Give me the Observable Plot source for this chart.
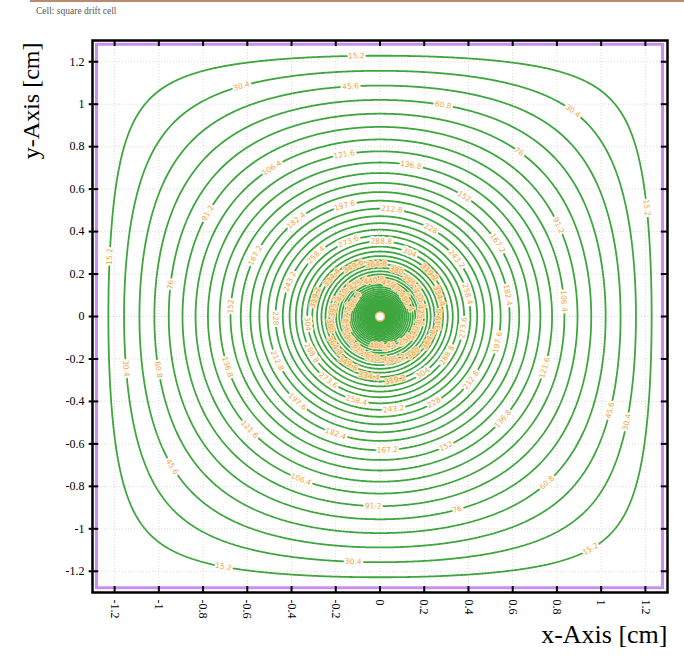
<!DOCTYPE html>
<html><head><meta charset="utf-8">
<script src="https://cdn.jsdelivr.net/npm/d3@7"></script>
<script src="https://cdn.jsdelivr.net/npm/@observablehq/plot@0.6"></script>
<style>
body{margin:0;background:#fff;}
#wrap{position:relative;width:684px;height:656px;overflow:hidden;background:#fff;}
#topline{position:absolute;left:30px;top:0;width:654px;height:2px;background:#b98a6c;}
#title{position:absolute;left:36px;top:6px;font:9.5px "Liberation Serif",serif;color:#555;}
#chart{position:absolute;left:0;top:0;}
</style></head><body>
<div id="wrap"><div id="chart"></div><div id="topline"></div><div id="title"></div></div>
<script>
// ---- data ----
const titleText = ["Cell: square drift cell"];
const xTicks = [-1.2, -1, -0.8, -0.6, -0.4, -0.2, 0, 0.2, 0.4, 0.6, 0.8, 1, 1.2];
const yTicks = [-1.2, -1, -0.8, -0.6, -0.4, -0.2, 0, 0.2, 0.4, 0.6, 0.8, 1, 1.2];
const axisRange = [-1.3, 1.3];
const cellHalfWidth = [1.3];      // square cell wall (cm)
const wire = [{x: 0, y: 0, radius: 0.001, potential: 1520}];
const levels = [15.2, 30.4, 45.6, 60.8, 76, 91.2, 106.4, 121.6, 136.8, 152,
  167.2, 182.4, 197.6, 212.8, 228, 243.2, 258.4, 273.6, 288.8, 304,
  319.2, 334.4, 349.6, 364.8, 380, 395.2, 410.4, 425.6, 440.8, 456,
  471.2, 486.4, 501.6, 516.8, 532, 547.2, 562.4, 577.6, 592.8, 608,
  623.2, 638.4, 653.6, 668.8, 684, 699.2, 714.4, 729.6, 744.8, 760,
  775.2, 790.4, 805.6, 820.8, 836, 851.2, 866.4, 881.6, 896.8, 912];
const labelledLevels = 32;

document.getElementById("title").textContent = titleText[0];

// ---- potential of a wire centred in a grounded square cell ----
const Lh = cellHalfWidth[0];
function gfun(x, y) {
  const c = Math.cos(Math.PI * x / (2 * Lh));
  const q = Math.exp(-Math.PI * Math.abs(y) / (2 * Lh));
  let s = 0.25 * Math.log((1 + 2 * q * c + q * q) / Math.max(1e-300, 1 - 2 * q * c + q * q));
  for (let n = 1; n <= 11; n += 2) {
    const k = n * Math.PI / (2 * Lh);
    const E2 = Math.exp(-2 * k * Lh);
    s -= Math.cos(k * x) * 2 * E2 * Math.cosh(k * y) / (1 + E2) / n;
  }
  return s;
}
const g0 = gfun(wire[0].radius, 0);
const V = (x, y) => Math.min(3000, wire[0].potential * gfun(x - wire[0].x, y - wire[0].y) / g0);

// ---- layout ----
const W = 684, H = 656, mT = 40, mL = 92, mR = 17, mB = 64;
const sx = (W - mL - mR) / (axisRange[1] - axisRange[0]);
const sy = (H - mT - mB) / (axisRange[1] - axisRange[0]);

// ---- contour labels ----
const fmt = d3.format(".1~f");
const labelData = [];
levels.slice(0, labelledLevels).forEach((lv, i) => {
  const n = i < 2 ? 5 : 3;
  for (let j = 0; j < n; j++) {
    const th = (((i * 97 + 23) % 360) + j * 360 / n) * Math.PI / 180;
    const cx = Math.cos(th), cy = Math.sin(th);
    let lo = 1e-4, hi = Lh / Math.max(Math.abs(cx), Math.abs(cy)) - 1e-6;
    for (let it = 0; it < 50; it++) {
      const m = (lo + hi) / 2;
      if (V(m * cx, m * cy) > lv) lo = m; else hi = m;
    }
    const r = (lo + hi) / 2, x = r * cx, y = r * cy, h = 1e-4;
    const gx = (V(x + h, y) - V(x - h, y)) / (2 * h);
    const gy = (V(x, y + h) - V(x, y - h)) / (2 * h);
    let ang = Math.atan2(-gx * sy, -gy * sx) * 180 / Math.PI;
    if (ang > 90) ang -= 180;
    if (ang < -90) ang += 180;
    labelData.push({x, y, text: fmt(lv), rotate: ang, inner: i >= 20});
  }
});

const tickFmt = d => String(Math.round(d * 10) / 10);
const tl = 0.028; // tick length in cm (~6px)
const serif = "Liberation Serif, Times New Roman, serif";
const wallDraw = 1.28;

const chart = Plot.plot({
  width: W, height: H,
  marginTop: mT, marginLeft: mL, marginRight: mR, marginBottom: mB,
  x: {domain: axisRange},
  y: {domain: axisRange},
  style: {background: "transparent"},
  marks: [
    Plot.gridX(xTicks, {stroke: "#b8b8b8", strokeOpacity: 0.5, strokeDasharray: "1,2"}),
    Plot.gridY(yTicks, {stroke: "#b8b8b8", strokeOpacity: 0.5, strokeDasharray: "1,2"}),
    Plot.contour({
      x1: axisRange[0], x2: axisRange[1], y1: axisRange[0], y2: axisRange[1],
      value: V, thresholds: levels, pixelSize: 1,
      fill: "none", stroke: "#3fa63f", strokeWidth: 1.8
    }),
    Plot.text(labelData.filter(d => !d.inner), {
      x: "x", y: "y", text: "text", rotate: "rotate",
      fill: "#f0a640", stroke: "white", strokeWidth: 4, paintOrder: "stroke",
      strokeLinejoin: "round", fontSize: 7.5, fontFamily: "DejaVu Sans, sans-serif"
    }),
    Plot.text(labelData.filter(d => d.inner), {
      x: "x", y: "y", text: "text", rotate: "rotate",
      fill: "#f0a640", stroke: "#fbe3c0", strokeWidth: 2.5, paintOrder: "stroke",
      strokeLinejoin: "round", fontSize: 7.5, fontFamily: "DejaVu Sans, sans-serif"
    }),
    Plot.dot(wire, {x: "x", y: "y", r: 4.5, fill: "white", stroke: "#f2b468", strokeWidth: 1.5}),
    Plot.rect([{x1: -wallDraw, x2: wallDraw, y1: -wallDraw, y2: wallDraw}], {
      x1: "x1", x2: "x2", y1: "y1", y2: "y2", fill: "none", stroke: "#c98ff0", strokeWidth: 3
    }),
    // inward ticks on all four sides
    Plot.ruleX(xTicks, {x: d => d, y1: axisRange[0], y2: axisRange[0] + tl, stroke: "black", strokeWidth: 2}),
    Plot.ruleX(xTicks, {x: d => d, y1: axisRange[1] - tl, y2: axisRange[1], stroke: "black", strokeWidth: 2}),
    Plot.ruleY(yTicks, {y: d => d, x1: axisRange[0] - 0.015, x2: axisRange[0] + tl, stroke: "black", strokeWidth: 2}),
    Plot.ruleY(yTicks, {y: d => d, x1: axisRange[1] - tl, x2: axisRange[1], stroke: "black", strokeWidth: 2}),
    Plot.frame({stroke: "black", strokeWidth: 2.5}),
    Plot.axisX(xTicks, {anchor: "bottom", tickSize: 0, tickPadding: 7, tickRotate: 90,
      tickFormat: tickFmt, fontSize: 12, fontFamily: serif, label: null}),
    Plot.axisY(yTicks, {anchor: "left", tickSize: 0, tickPadding: 8,
      tickFormat: tickFmt, fontSize: 12, fontFamily: serif, label: null}),
    Plot.text(["y-Axis [cm]"], {frameAnchor: "top-left", text: d => d, dx: -61, dy: 2,
      rotate: -90, textAnchor: "end", lineAnchor: "middle", fontSize: 24, fontFamily: serif, fill: "black"}),
    Plot.text(["x-Axis [cm]"], {frameAnchor: "bottom-right", text: d => d, dx: 0, dy: 42,
      textAnchor: "end", lineAnchor: "middle", fontSize: 26, fontFamily: serif, fill: "black"})
  ]
});
document.getElementById("chart").appendChild(chart);
</script>
</body></html>
